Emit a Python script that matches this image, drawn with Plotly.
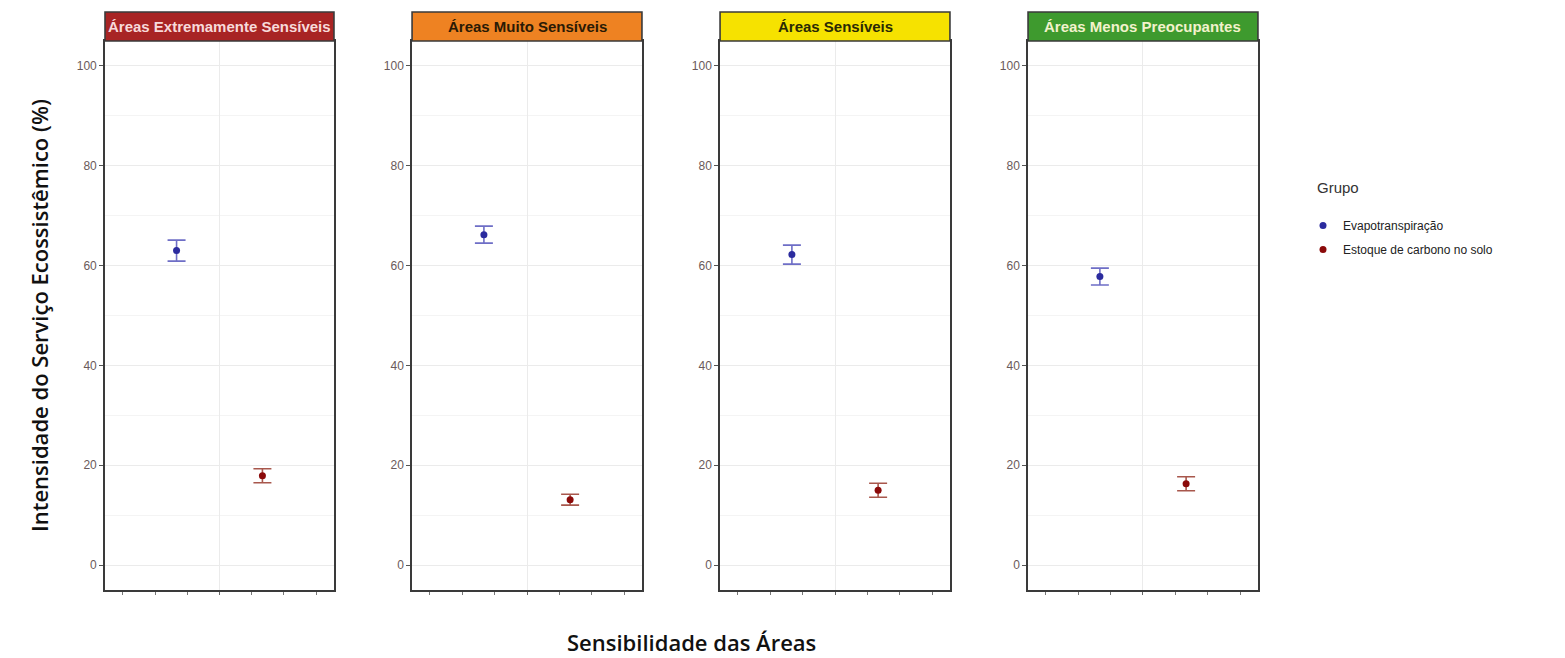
import plotly.graph_objects as go

# Facet panels (area sensitivity classes) and the two ecosystem-service groups
paineis = ["Áreas Extremamente Sensíveis", "Áreas Muito Sensíveis",
           "Áreas Sensíveis", "Áreas Menos Preocupantes"]
grupos = ["Evapotranspiração", "Estoque de carbono no solo"]

# Mean intensity (%) and error half-width for each panel
evapo_media = [63.0, 66.2, 62.2, 57.8]
evapo_erro = [2.1, 1.7, 1.9, 1.7]
carbono_media = [17.9, 13.1, 15.0, 16.3]
carbono_erro = [1.4, 1.1, 1.4, 1.4]

y_ticks = [0, 20, 40, 60, 80, 100]

# Styling
strip_fill = ["#A82424", "#EE8222", "#F6E200", "#3E9A2E"]
strip_text = ["#F7DADA", "#2A1A05", "#2A2A05", "#F2F2CC"]
cor_ponto = ["#2B2B9E", "#8B0A0A"]
cor_erro = ["#6E6EC6", "#A8574C"]
dodge = 0.225
x_dom = [(0.0671, 0.2134), (0.2633, 0.4102), (0.4601, 0.6070), (0.6569, 0.8038)]
y_dom = (0.1033, 0.9377)
strip_top = 0.9818

medias = [evapo_media, carbono_media]
erros = [evapo_erro, carbono_erro]
offsets = [-dodge, dodge]

fig = go.Figure()
layout = {}
shapes = []
annotations = []

for p, nome in enumerate(paineis):
    sfx = "" if p == 0 else str(p + 1)
    xa, ya = "x" + sfx, "y" + sfx
    for g, grupo in enumerate(grupos):
        fig.add_trace(go.Scatter(
            x=[1 + offsets[g]], y=[medias[g][p]],
            error_y=dict(type="data", array=[erros[g][p]], color=cor_erro[g],
                         thickness=1.6, width=9),
            mode="markers",
            marker=dict(color=cor_ponto[g], size=7, symbol="circle"),
            name=grupo, legendgroup=grupo, showlegend=(p == 0),
            xaxis=xa, yaxis=ya,
            hovertemplate=f"{nome}<br>{grupo}: %{{y:.1f}}%<extra></extra>",
        ))
    minor_x = [1 + k * 0.1688 for k in (-3, -2, -1, 1, 2, 3)]
    layout["xaxis" + sfx] = dict(
        domain=list(x_dom[p]), anchor=ya, range=[0.4, 1.6],
        tickvals=[1], ticktext=[""], ticks="outside", ticklen=3, tickcolor="#666",
        showgrid=True, gridcolor="#EBEBEB", gridwidth=1,
        minor=dict(tickvals=minor_x, ticks="outside", ticklen=3,
                   tickcolor="#777", showgrid=False),
        showline=True, mirror=True, linecolor="#3A3A3A", linewidth=1.6,
        zeroline=False, fixedrange=True,
    )
    layout["yaxis" + sfx] = dict(
        domain=list(y_dom), anchor=xa, range=[-5, 105],
        tickvals=y_ticks, ticktext=[str(v) for v in y_ticks],
        ticks="outside", ticklen=4, tickcolor="#555",
        tickfont=dict(family="Liberation Sans, Arial", size=12, color="#6A5A5A"),
        showgrid=True, gridcolor="#EBEBEB", gridwidth=1.2,
        minor=dict(dtick=10, showgrid=True, gridcolor="#F4F4F4", gridwidth=1),
        showline=True, mirror=True, linecolor="#3A3A3A", linewidth=1.6,
        zeroline=False, fixedrange=True,
    )
    shapes.append(dict(type="rect", xref=xa + " domain", yref="paper",
                       x0=0, x1=1, y0=y_dom[1], y1=strip_top,
                       fillcolor=strip_fill[p], line=dict(color="#3A3A3A", width=1.6),
                       layer="above"))
    annotations.append(dict(xref=xa + " domain", yref="paper",
                            x=0.5, y=(y_dom[1] + strip_top) / 2,
                            text=f"<b>{nome}</b>", showarrow=False,
                            font=dict(family="Liberation Sans Narrow, Liberation Sans, Arial",
                                      size=15, color=strip_text[p]),
                            xanchor="center", yanchor="middle"))

annotations.append(dict(xref="paper", yref="paper", x=0.442, y=1 - 642 / 658,
                        text="Sensibilidade das Áreas", showarrow=False,
                        font=dict(family="Open Sans", size=22, color="#111", weight=600),
                        xanchor="center", yanchor="middle"))
annotations.append(dict(xref="paper", yref="paper", x=0.025, y=0.52,
                        text="Intensidade do Serviço Ecossistêmico (%)", showarrow=False,
                        textangle=-90,
                        font=dict(family="Open Sans", size=22, color="#111", weight=600),
                        xanchor="center", yanchor="middle"))
# Legend heading
annotations.append(dict(xref="paper", yref="paper", x=1315 / 1565, y=1 - 187 / 658,
                        text="Grupo", showarrow=False,
                        font=dict(family="Liberation Sans, Arial", size=15, color="#333"),
                        xanchor="left", yanchor="middle"))

fig.update_layout(
    width=1565, height=658,
    margin=dict(l=0, r=0, t=0, b=0),
    paper_bgcolor="white", plot_bgcolor="white",
    shapes=shapes, annotations=annotations,
    legend=dict(x=1303 / 1565, y=1 - 211 / 658, xanchor="left", yanchor="top",
                font=dict(family="Liberation Sans, Arial", size=12, color="#222"),
                tracegroupgap=5, itemsizing="trace", bgcolor="rgba(0,0,0,0)"),
    **layout,
)

fig.write_html("out.html")
